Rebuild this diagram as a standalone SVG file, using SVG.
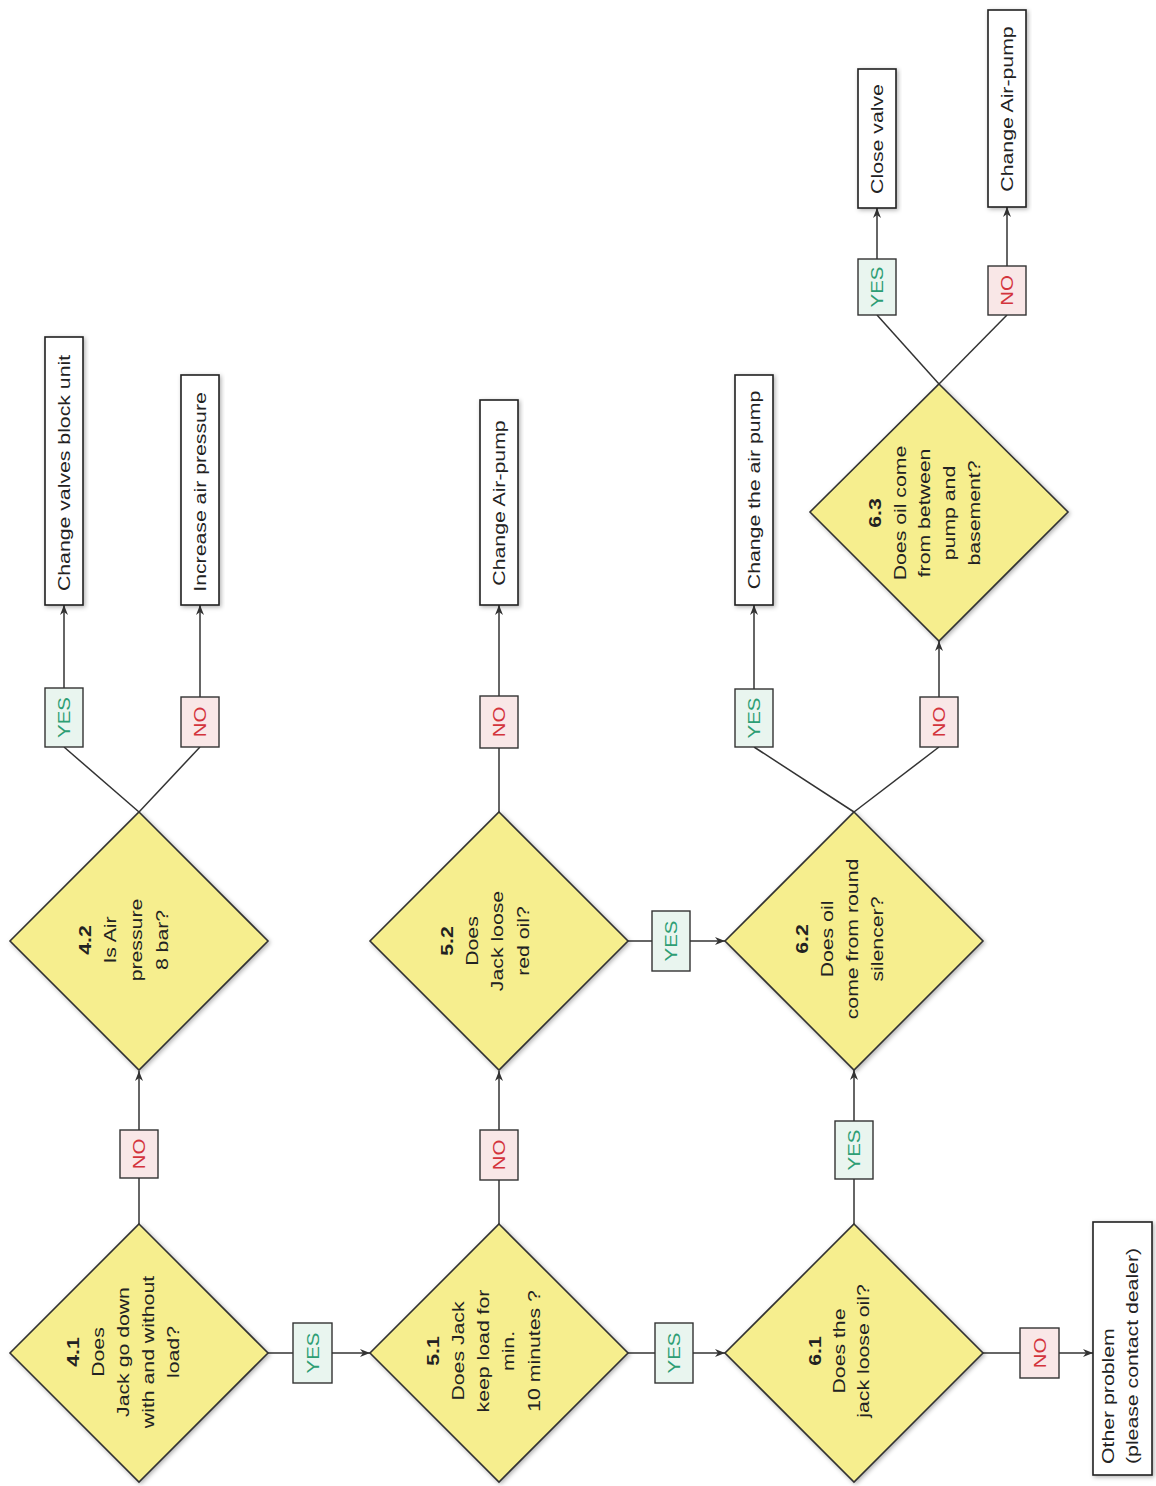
<svg xmlns="http://www.w3.org/2000/svg" width="1156" height="1486" viewBox="0 0 1156 1486">
<defs>
<filter id="sh" x="-10%" y="-10%" width="125%" height="125%">
<feDropShadow dx="1.5" dy="1.5" stdDeviation="2" flood-color="#000" flood-opacity="0.3"/>
</filter>
<marker id="arr" markerUnits="userSpaceOnUse" markerWidth="11" markerHeight="9" refX="10" refY="4.5" orient="auto">
<path d="M0,0.5 L10,4.5 L0,8.5 L3,4.5 z" fill="#333"/>
</marker>
<style>
.dia{fill:#f6ee8e;stroke:#333;stroke-width:1.6;filter:url(#sh)}
.act{fill:#fff;stroke:#222;stroke-width:1.6;filter:url(#sh)}
.yes{fill:#e9f5ef;stroke:#333;stroke-width:1.4}
.no{fill:#f9e7e7;stroke:#333;stroke-width:1.4}
.ln{stroke:#333;stroke-width:1.5;fill:none}
.ar{marker-end:url(#arr)}
text{font-family:"Liberation Sans",Arial,sans-serif;font-size:17px;fill:#222}
.c{text-anchor:middle}
.b{font-weight:bold}
.ty{fill:#2e9e74}
.tn{fill:#d3343c}
</style>
</defs>
<rect width="1156" height="1486" fill="#fff"/>
<g id="connectors">
<line class="ln" x1="139" y1="1224" x2="139" y2="1178"/>
<line class="ln ar" x1="139" y1="1130" x2="139" y2="1071"/>
<line class="ln" x1="268" y1="1353" x2="293" y2="1353"/>
<line class="ln ar" x1="332" y1="1353" x2="370" y2="1353"/>
<line class="ln" x1="64" y1="747" x2="139" y2="812"/>
<line class="ln" x1="200" y1="747" x2="139" y2="812"/>
<line class="ln ar" x1="64" y1="688" x2="64" y2="605"/>
<line class="ln ar" x1="200" y1="697" x2="200" y2="605"/>
<line class="ln" x1="499" y1="1224" x2="499" y2="1180"/>
<line class="ln ar" x1="499" y1="1130" x2="499" y2="1071"/>
<line class="ln" x1="628" y1="1353" x2="655" y2="1353"/>
<line class="ln ar" x1="693" y1="1353" x2="725" y2="1353"/>
<line class="ln" x1="499" y1="812" x2="499" y2="748"/>
<line class="ln ar" x1="499" y1="696" x2="499" y2="605"/>
<line class="ln" x1="628" y1="941" x2="652" y2="941"/>
<line class="ln ar" x1="690" y1="941" x2="725" y2="941"/>
<line class="ln" x1="854" y1="1224" x2="854" y2="1179"/>
<line class="ln ar" x1="854" y1="1121" x2="854" y2="1070"/>
<line class="ln" x1="983" y1="1353" x2="1020" y2="1353"/>
<line class="ln ar" x1="1059" y1="1353" x2="1093" y2="1353"/>
<line class="ln" x1="754" y1="747" x2="854" y2="812"/>
<line class="ln" x1="939" y1="747" x2="854" y2="812"/>
<line class="ln ar" x1="754" y1="689" x2="754" y2="605"/>
<line class="ln ar" x1="939" y1="697" x2="939" y2="641"/>
<line class="ln" x1="877" y1="315" x2="939" y2="384"/>
<line class="ln" x1="1007" y1="315" x2="939" y2="384"/>
<line class="ln ar" x1="877" y1="259" x2="877" y2="208"/>
<line class="ln ar" x1="1007" y1="266" x2="1007" y2="207"/>
</g>
<g id="d41">
<polygon class="dia" points="139,1224 268,1353 139,1482 10,1353"/>
<text class="c" transform="translate(79,1352) rotate(-90) scale(1.25,1)"><tspan class="b" x="0" y="0">4.1</tspan><tspan x="0" y="25">Does</tspan><tspan x="0" y="50">Jack go down</tspan><tspan x="0" y="75">with and without</tspan><tspan x="0" y="100">load?</tspan></text>
</g>
<g id="d42">
<polygon class="dia" points="139,812 268,941 139,1070 10,941"/>
<text class="c" transform="translate(91,940) rotate(-90) scale(1.25,1)"><tspan class="b" x="0" y="0">4.2</tspan><tspan x="0" y="25">Is Air</tspan><tspan x="0" y="51">pressure</tspan><tspan x="0" y="77">8 bar?</tspan></text>
</g>
<g id="d51">
<polygon class="dia" points="499,1224 628,1353 499,1482 370,1353"/>
<text class="c" transform="translate(439,1351) rotate(-90) scale(1.25,1)"><tspan class="b" x="0" y="0">5.1</tspan><tspan x="0" y="25">Does Jack</tspan><tspan x="0" y="50">keep load for</tspan><tspan x="0" y="75">min.</tspan><tspan x="0" y="101">10 minutes ?</tspan></text>
</g>
<g id="d52">
<polygon class="dia" points="499,812 628,941 499,1070 370,941"/>
<text class="c" transform="translate(453,941) rotate(-90) scale(1.25,1)"><tspan class="b" x="0" y="0">5.2</tspan><tspan x="0" y="25">Does</tspan><tspan x="0" y="50">Jack loose</tspan><tspan x="0" y="76">red oil?</tspan></text>
</g>
<g id="d61">
<polygon class="dia" points="854,1224 983,1353 854,1482 725,1353"/>
<text class="c" transform="translate(821,1351) rotate(-90) scale(1.25,1)"><tspan class="b" x="0" y="0">6.1</tspan><tspan x="0" y="24">Does the</tspan><tspan x="0" y="48">jack loose oil?</tspan></text>
</g>
<g id="d62">
<polygon class="dia" points="854,812 983,941 854,1070 725,941"/>
<text class="c" transform="translate(808,939) rotate(-90) scale(1.25,1)"><tspan class="b" x="0" y="0">6.2</tspan><tspan x="0" y="25">Does oil</tspan><tspan x="0" y="50">come from round</tspan><tspan x="0" y="75">silencer?</tspan></text>
</g>
<g id="d63">
<polygon class="dia" points="939,384 1068,512 939,641 810,512"/>
<text class="c" transform="translate(881,513) rotate(-90) scale(1.25,1)"><tspan class="b" x="0" y="0">6.3</tspan><tspan x="0" y="25">Does oil come</tspan><tspan x="0" y="49">from between</tspan><tspan x="0" y="74">pump and</tspan><tspan x="0" y="99">basement?</tspan></text>
</g>
<g id="a1">
<rect class="act" x="45" y="337" width="38" height="268"/>
<text class="c" transform="translate(70,473) rotate(-90) scale(1.25,1)">Change valves block unit</text>
</g>
<g id="a2">
<rect class="act" x="181" y="375" width="38" height="230"/>
<text class="c" transform="translate(206,492) rotate(-90) scale(1.25,1)">Increase air pressure</text>
</g>
<g id="a3">
<rect class="act" x="480" y="400" width="38" height="205"/>
<text class="c" transform="translate(505,503) rotate(-90) scale(1.25,1)">Change Air-pump</text>
</g>
<g id="a4">
<rect class="act" x="735" y="375" width="38" height="230"/>
<text class="c" transform="translate(760,490) rotate(-90) scale(1.25,1)">Change the air pump</text>
</g>
<g id="a5">
<rect class="act" x="858" y="69" width="38" height="139"/>
<text class="c" transform="translate(883,139) rotate(-90) scale(1.25,1)">Close valve</text>
</g>
<g id="a6">
<rect class="act" x="988" y="10" width="38" height="197"/>
<text class="c" transform="translate(1013,109) rotate(-90) scale(1.25,1)">Change Air-pump</text>
</g>
<g id="a7">
<rect class="act" x="1093" y="1222" width="59" height="253"/>
<text transform="translate(1114,1464) rotate(-90) scale(1.25,1)"><tspan x="0" y="0">Other problem</tspan><tspan x="0" y="24">(please contact dealer)</tspan></text>
</g>
<g id="labels">
<g id="l1"><rect class="no" x="120" y="1130" width="38" height="48"/><text class="c tn" transform="translate(145,1154) rotate(-90) scale(1.2,1)">NO</text></g>
<g id="l2"><rect class="yes" x="293" y="1323" width="39" height="60"/><text class="c ty" transform="translate(318.5,1353) rotate(-90) scale(1.2,1)">YES</text></g>
<g id="l3"><rect class="yes" x="45" y="688" width="38" height="59"/><text class="c ty" transform="translate(70,717.5) rotate(-90) scale(1.2,1)">YES</text></g>
<g id="l4"><rect class="no" x="181" y="697" width="38" height="50"/><text class="c tn" transform="translate(206,722) rotate(-90) scale(1.2,1)">NO</text></g>
<g id="l5"><rect class="no" x="480" y="1130" width="38" height="50"/><text class="c tn" transform="translate(505,1155) rotate(-90) scale(1.2,1)">NO</text></g>
<g id="l6"><rect class="yes" x="655" y="1323" width="38" height="60"/><text class="c ty" transform="translate(680,1353) rotate(-90) scale(1.2,1)">YES</text></g>
<g id="l7"><rect class="no" x="480" y="696" width="38" height="52"/><text class="c tn" transform="translate(505,722) rotate(-90) scale(1.2,1)">NO</text></g>
<g id="l8"><rect class="yes" x="652" y="911" width="38" height="60"/><text class="c ty" transform="translate(677,941) rotate(-90) scale(1.2,1)">YES</text></g>
<g id="l9"><rect class="yes" x="835" y="1121" width="38" height="58"/><text class="c ty" transform="translate(860,1150) rotate(-90) scale(1.2,1)">YES</text></g>
<g id="l10"><rect class="no" x="1020" y="1328" width="39" height="50"/><text class="c tn" transform="translate(1045.5,1353) rotate(-90) scale(1.2,1)">NO</text></g>
<g id="l11"><rect class="yes" x="735" y="689" width="38" height="58"/><text class="c ty" transform="translate(760,718) rotate(-90) scale(1.2,1)">YES</text></g>
<g id="l12"><rect class="no" x="920" y="697" width="38" height="50"/><text class="c tn" transform="translate(945,722) rotate(-90) scale(1.2,1)">NO</text></g>
<g id="l13"><rect class="yes" x="858" y="259" width="38" height="56"/><text class="c ty" transform="translate(883,287) rotate(-90) scale(1.2,1)">YES</text></g>
<g id="l14"><rect class="no" x="988" y="266" width="38" height="49"/><text class="c tn" transform="translate(1013,290.5) rotate(-90) scale(1.2,1)">NO</text></g>
</g>
</svg>
